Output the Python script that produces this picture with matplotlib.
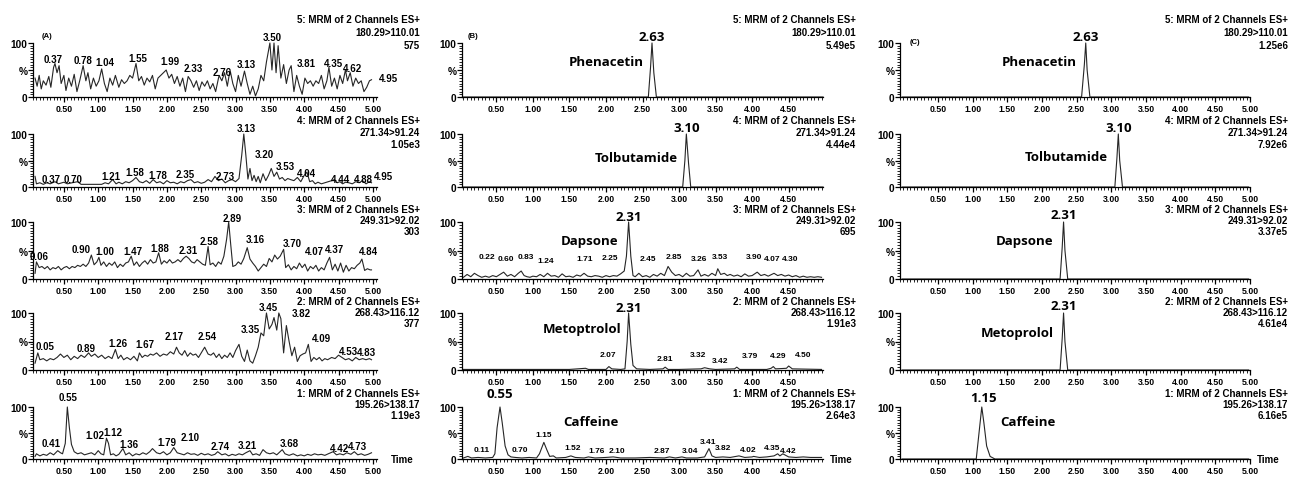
import matplotlib
matplotlib.use("Agg")
import matplotlib.pyplot as plt
from matplotlib.ticker import MultipleLocator

plt.rcParams['font.family'] = ['Liberation Sans', 'DejaVu Sans']

# ---------------- data ----------------
channels = ["5: MRM of 2 Channels ES+", "4: MRM of 2 Channels ES+", "3: MRM of 2 Channels ES+",
            "2: MRM of 2 Channels ES+", "1: MRM of 2 Channels ES+"]
transitions = ["180.29>110.01", "271.34>91.24", "249.31>92.02", "268.43>116.12", "195.26>138.17"]
counts_a = ["575", "1.05e3", "303", "377", "1.19e3"]
counts_b = ["5.49e5", "4.44e4", "695", "1.91e3", "2.64e3"]
counts_c = ["1.25e6", "7.92e6", "3.37e5", "4.61e4", "6.16e5"]

# (A) blank: (time, %) vertices
a_ch5 = [(0.08, 35), (0.11, 20), (0.14, 40), (0.17, 15), (0.20, 30), (0.24, 22), (0.28, 38), (0.31, 18),
         (0.35, 55), (0.37, 62), (0.40, 45), (0.43, 58), (0.46, 25), (0.50, 40), (0.53, 12), (0.57, 35),
         (0.61, 20), (0.65, 42), (0.69, 10), (0.73, 30), (0.78, 58), (0.82, 30), (0.85, 45), (0.89, 15),
         (0.93, 35), (0.97, 20), (1.01, 30), (1.05, 52), (1.09, 25), (1.13, 10), (1.17, 35), (1.21, 22),
         (1.25, 40), (1.30, 18), (1.34, 32), (1.38, 25), (1.42, 30), (1.46, 40), (1.50, 35), (1.55, 62),
         (1.59, 30), (1.63, 38), (1.67, 22), (1.71, 35), (1.75, 28), (1.79, 40), (1.83, 15), (1.87, 35),
         (1.91, 40), (1.95, 45), (1.99, 50), (2.03, 35), (2.07, 42), (2.11, 25), (2.15, 38), (2.19, 20),
         (2.23, 35), (2.27, 10), (2.31, 38), (2.35, 30), (2.39, 18), (2.43, 30), (2.47, 12), (2.51, 28),
         (2.55, 20), (2.59, 30), (2.63, 15), (2.67, 25), (2.71, 10), (2.76, 40), (2.80, 30), (2.84, 45),
         (2.88, 20), (2.92, 50), (2.96, 25), (3.00, 10), (3.04, 40), (3.08, 20), (3.13, 48), (3.17, 25),
         (3.21, 5), (3.25, 20), (3.29, 2), (3.33, 15), (3.37, 40), (3.41, 30), (3.45, 65), (3.50, 100),
         (3.53, 50), (3.56, 100), (3.59, 45), (3.62, 95), (3.66, 35), (3.70, 60), (3.74, 25), (3.78, 50),
         (3.81, 58), (3.85, 10), (3.89, 40), (3.93, 20), (3.97, 5), (4.01, 35), (4.05, 25), (4.09, 30),
         (4.13, 20), (4.17, 30), (4.21, 25), (4.25, 40), (4.29, 15), (4.33, 30), (4.36, 55), (4.40, 20),
         (4.44, 35), (4.48, 15), (4.52, 40), (4.56, 25), (4.60, 50), (4.63, 30), (4.67, 45), (4.71, 20),
         (4.75, 35), (4.79, 25), (4.83, 30), (4.87, 10), (4.91, 18), (4.95, 30), (4.98, 32)]
a_ch4 = [(0.08, 20), (0.10, 6), (0.15, 8), (0.20, 5), (0.25, 8), (0.30, 6), (0.37, 10), (0.42, 6),
         (0.50, 9), (0.55, 6), (0.62, 8), (0.70, 10), (0.75, 5), (0.80, 5), (0.90, 5), (1.00, 5),
         (1.05, 5), (1.10, 8), (1.15, 6), (1.21, 14), (1.26, 6), (1.30, 9), (1.35, 6), (1.40, 10),
         (1.45, 8), (1.50, 12), (1.55, 18), (1.60, 10), (1.65, 8), (1.70, 12), (1.75, 7), (1.80, 14),
         (1.85, 8), (1.90, 10), (1.95, 6), (2.00, 12), (2.05, 8), (2.10, 9), (2.15, 6), (2.20, 10),
         (2.25, 8), (2.30, 12), (2.35, 14), (2.40, 8), (2.45, 10), (2.50, 7), (2.55, 9), (2.60, 14),
         (2.65, 10), (2.70, 20), (2.75, 12), (2.80, 15), (2.85, 8), (2.90, 12), (2.95, 14), (3.00, 10),
         (3.05, 16), (3.09, 60), (3.12, 100), (3.15, 60), (3.18, 15), (3.21, 35), (3.24, 12), (3.27, 22),
         (3.30, 10), (3.33, 20), (3.36, 8), (3.40, 25), (3.44, 12), (3.48, 22), (3.52, 35), (3.56, 20),
         (3.60, 28), (3.64, 15), (3.68, 18), (3.72, 12), (3.76, 16), (3.80, 14), (3.85, 12), (3.90, 18),
         (3.95, 10), (4.00, 22), (4.04, 28), (4.08, 10), (4.12, 12), (4.16, 6), (4.20, 9), (4.25, 6),
         (4.30, 8), (4.35, 10), (4.40, 12), (4.44, 14), (4.48, 8), (4.52, 10), (4.56, 6), (4.60, 9),
         (4.65, 8), (4.70, 6), (4.75, 10), (4.80, 8), (4.85, 12), (4.90, 6), (4.95, 10), (4.98, 8)]
a_ch3 = [(0.08, 10), (0.10, 30), (0.14, 20), (0.18, 22), (0.22, 18), (0.26, 22), (0.30, 16), (0.34, 20),
         (0.38, 18), (0.42, 22), (0.46, 16), (0.50, 20), (0.54, 22), (0.58, 18), (0.62, 22), (0.66, 20),
         (0.70, 24), (0.74, 22), (0.78, 26), (0.82, 22), (0.86, 28), (0.90, 42), (0.94, 25), (0.98, 30),
         (1.01, 38), (1.04, 24), (1.08, 30), (1.12, 22), (1.16, 28), (1.20, 24), (1.24, 30), (1.28, 20),
         (1.32, 26), (1.36, 22), (1.40, 28), (1.44, 30), (1.48, 40), (1.52, 24), (1.56, 30), (1.60, 22),
         (1.64, 28), (1.68, 32), (1.72, 26), (1.76, 34), (1.80, 28), (1.84, 30), (1.88, 46), (1.92, 26),
         (1.96, 32), (2.00, 28), (2.04, 34), (2.08, 28), (2.12, 30), (2.16, 34), (2.20, 30), (2.24, 36),
         (2.28, 40), (2.32, 36), (2.36, 30), (2.40, 28), (2.44, 34), (2.48, 30), (2.52, 26), (2.56, 24),
         (2.60, 57), (2.63, 25), (2.67, 28), (2.71, 22), (2.75, 30), (2.79, 26), (2.83, 40), (2.87, 70),
         (2.90, 100), (2.93, 60), (2.96, 22), (3.00, 24), (3.04, 30), (3.08, 26), (3.12, 36), (3.17, 55),
         (3.21, 35), (3.25, 28), (3.29, 22), (3.33, 14), (3.37, 20), (3.41, 26), (3.45, 22), (3.49, 36),
         (3.53, 30), (3.57, 42), (3.61, 35), (3.65, 40), (3.70, 52), (3.73, 20), (3.77, 25), (3.81, 16),
         (3.85, 22), (3.89, 18), (3.93, 28), (3.97, 20), (4.01, 26), (4.05, 14), (4.09, 22), (4.13, 18),
         (4.17, 24), (4.21, 14), (4.25, 20), (4.29, 16), (4.33, 28), (4.37, 38), (4.41, 16), (4.45, 26),
         (4.49, 14), (4.53, 28), (4.57, 12), (4.61, 24), (4.65, 14), (4.69, 20), (4.73, 18), (4.77, 24),
         (4.81, 28), (4.84, 35), (4.88, 15), (4.92, 18), (4.96, 16), (4.98, 16)]
a_ch2 = [(0.08, 12), (0.12, 30), (0.15, 18), (0.20, 20), (0.25, 16), (0.30, 20), (0.35, 18), (0.40, 22),
         (0.45, 28), (0.50, 22), (0.55, 26), (0.60, 18), (0.65, 24), (0.70, 20), (0.75, 26), (0.80, 22),
         (0.86, 30), (0.90, 24), (0.95, 28), (1.00, 22), (1.05, 26), (1.10, 20), (1.15, 24), (1.20, 20),
         (1.25, 36), (1.29, 20), (1.33, 26), (1.37, 18), (1.42, 22), (1.47, 18), (1.52, 24), (1.57, 16),
         (1.60, 30), (1.64, 22), (1.68, 26), (1.72, 24), (1.76, 28), (1.80, 26), (1.85, 30), (1.90, 24),
         (1.95, 28), (2.00, 26), (2.05, 32), (2.10, 28), (2.14, 40), (2.18, 30), (2.22, 26), (2.26, 34),
         (2.30, 24), (2.34, 30), (2.38, 26), (2.42, 28), (2.46, 22), (2.50, 30), (2.55, 40), (2.60, 28),
         (2.64, 26), (2.68, 30), (2.72, 22), (2.76, 28), (2.80, 20), (2.84, 26), (2.88, 22), (2.92, 30),
         (2.96, 22), (3.00, 34), (3.05, 45), (3.09, 24), (3.13, 15), (3.17, 35), (3.21, 16), (3.25, 12),
         (3.29, 25), (3.33, 40), (3.37, 65), (3.41, 60), (3.45, 100), (3.49, 72), (3.53, 80), (3.56, 92),
         (3.60, 70), (3.63, 100), (3.66, 90), (3.70, 30), (3.74, 78), (3.78, 50), (3.82, 25), (3.86, 40),
         (3.90, 15), (3.94, 25), (3.98, 28), (4.02, 30), (4.06, 45), (4.10, 15), (4.14, 22), (4.18, 18),
         (4.22, 22), (4.26, 16), (4.30, 20), (4.34, 18), (4.40, 22), (4.45, 20), (4.50, 26), (4.55, 22),
         (4.60, 18), (4.65, 20), (4.70, 16), (4.75, 22), (4.80, 18), (4.85, 20), (4.90, 18), (4.95, 20),
         (4.98, 18)]
a_ch1 = [(0.08, 5), (0.10, 10), (0.15, 6), (0.20, 9), (0.25, 7), (0.30, 12), (0.35, 8), (0.41, 16),
         (0.45, 12), (0.48, 10), (0.52, 30), (0.55, 100), (0.58, 60), (0.61, 28), (0.65, 14), (0.70, 10),
         (0.75, 12), (0.80, 8), (0.85, 10), (0.90, 12), (0.95, 8), (1.00, 16), (1.04, 10), (1.08, 8),
         (1.12, 40), (1.15, 30), (1.18, 8), (1.22, 10), (1.26, 6), (1.30, 9), (1.36, 20), (1.40, 8),
         (1.45, 12), (1.50, 6), (1.55, 10), (1.60, 8), (1.65, 12), (1.70, 9), (1.75, 14), (1.79, 20),
         (1.85, 12), (1.90, 10), (1.95, 14), (2.00, 8), (2.05, 12), (2.10, 22), (2.15, 12), (2.20, 10),
         (2.25, 8), (2.30, 12), (2.35, 9), (2.40, 10), (2.45, 7), (2.50, 11), (2.55, 8), (2.60, 10),
         (2.65, 7), (2.70, 9), (2.74, 14), (2.80, 8), (2.85, 10), (2.90, 6), (2.95, 9), (3.00, 7),
         (3.05, 10), (3.10, 8), (3.15, 12), (3.21, 16), (3.25, 8), (3.30, 10), (3.35, 7), (3.40, 18),
         (3.45, 12), (3.50, 10), (3.55, 12), (3.60, 8), (3.68, 18), (3.72, 10), (3.78, 7), (3.84, 10),
         (3.90, 6), (3.95, 8), (4.00, 6), (4.05, 9), (4.10, 7), (4.15, 10), (4.20, 8), (4.25, 9),
         (4.30, 7), (4.35, 10), (4.42, 14), (4.47, 8), (4.52, 10), (4.57, 8), (4.62, 12), (4.68, 9),
         (4.73, 14), (4.78, 8), (4.83, 10), (4.88, 7), (4.93, 9), (4.98, 12)]

# peak labels (text, time, %)
a_lab5 = [("0.37", 0.35, 70), ("0.78", 0.78, 69), ("1.04", 1.09, 65), ("1.55", 1.58, 72), ("1.99", 2.05, 67),
          ("2.33", 2.39, 54), ("2.76", 2.81, 46), ("3.13", 3.15, 61), ("3.50", 3.54, 111), ("3.81", 4.03, 63),
          ("4.35", 4.42, 63), ("4.62", 4.70, 54), ("4.95", 5.22, 35)]
a_lab4 = [("0.37", 0.31, 16), ("0.70", 0.63, 16), ("1.21", 1.19, 20), ("1.58", 1.53, 29), ("1.78", 1.87, 22),
          ("2.35", 2.27, 25), ("2.73", 2.85, 20), ("3.13", 3.15, 111), ("3.20", 3.42, 63), ("3.53", 3.72, 39),
          ("4.04", 4.03, 26), ("4.44", 4.53, 16), ("4.88", 4.86, 15), ("4.95", 5.15, 20)]
a_lab3 = [("0.06", 0.14, 40), ("0.90", 0.75, 52), ("1.00", 1.09, 49), ("1.47", 1.51, 49), ("1.88", 1.90, 55),
          ("2.31", 2.31, 51), ("2.58", 2.61, 67), ("2.89", 2.95, 107), ("3.16", 3.29, 70), ("3.70", 3.83, 64),
          ("4.07", 4.15, 49), ("4.37", 4.44, 52), ("4.84", 4.93, 49)]
a_lab2 = [("0.05", 0.22, 42), ("0.89", 0.83, 39), ("1.26", 1.29, 48), ("1.67", 1.68, 45), ("2.17", 2.10, 60),
          ("2.54", 2.59, 60), ("3.35", 3.22, 72), ("3.45", 3.47, 111), ("3.82", 3.95, 100), ("4.09", 4.25, 57),
          ("4.53", 4.64, 34), ("4.83", 4.91, 31)]
a_lab1 = [("0.55", 0.56, 120), ("0.41", 0.31, 31), ("1.02", 0.95, 46), ("1.12", 1.22, 51), ("1.36", 1.44, 28),
          ("1.79", 2.00, 32), ("2.10", 2.34, 42), ("2.74", 2.78, 25), ("3.21", 3.17, 26), ("3.68", 3.78, 31),
          ("4.42", 4.52, 22), ("4.73", 4.78, 25)]

# (B) spiked sample
b_ch5 = [(0.05, 0), (2.58, 0), (2.61, 55), (2.63, 100), (2.655, 45), (2.69, 0), (4.97, 0)]
b_ch4 = [(0.05, 0), (3.05, 0), (3.08, 50), (3.10, 100), (3.13, 45), (3.16, 0), (4.97, 0)]
b_ch3 = [(0.05, 3), (0.10, 8), (0.15, 4), (0.20, 10), (0.25, 6), (0.30, 3), (0.35, 5), (0.40, 3),
         (0.45, 6), (0.50, 4), (0.55, 8), (0.60, 12), (0.65, 5), (0.70, 8), (0.75, 4), (0.80, 10),
         (0.84, 14), (0.88, 6), (0.92, 4), (0.96, 3), (1.00, 5), (1.05, 4), (1.10, 8), (1.15, 4),
         (1.20, 10), (1.25, 5), (1.30, 6), (1.35, 3), (1.40, 9), (1.45, 4), (1.50, 5), (1.55, 3),
         (1.60, 7), (1.65, 5), (1.70, 10), (1.75, 5), (1.80, 4), (1.85, 6), (1.90, 5), (1.95, 3),
         (2.00, 6), (2.05, 4), (2.10, 6), (2.15, 5), (2.20, 9), (2.25, 14), (2.28, 40), (2.31, 100),
         (2.34, 40), (2.37, 6), (2.40, 4), (2.45, 10), (2.50, 4), (2.55, 6), (2.60, 3), (2.65, 8),
         (2.70, 5), (2.75, 10), (2.80, 6), (2.85, 22), (2.90, 12), (2.95, 6), (3.00, 8), (3.05, 4),
         (3.10, 10), (3.15, 5), (3.20, 6), (3.26, 16), (3.30, 5), (3.35, 8), (3.40, 5), (3.45, 10),
         (3.50, 6), (3.53, 18), (3.57, 8), (3.62, 10), (3.66, 6), (3.70, 8), (3.75, 5), (3.80, 7),
         (3.85, 4), (3.90, 9), (3.95, 5), (4.00, 6), (4.07, 12), (4.12, 6), (4.17, 8), (4.22, 5),
         (4.30, 10), (4.35, 6), (4.40, 8), (4.45, 5), (4.50, 7), (4.55, 4), (4.60, 6), (4.65, 3),
         (4.70, 5), (4.75, 3), (4.80, 4), (4.85, 3), (4.90, 4), (4.95, 3)]
b_ch2 = [(0.05, 1), (0.50, 1), (1.00, 1), (1.50, 1), (1.72, 3), (1.76, 1), (2.00, 1), (2.04, 6),
         (2.08, 2), (2.20, 1), (2.26, 2), (2.29, 50), (2.31, 100), (2.34, 45), (2.37, 8), (2.42, 2),
         (2.60, 1), (2.78, 2), (2.81, 5), (2.85, 1), (3.00, 1), (3.30, 2), (3.35, 4), (3.42, 2),
         (3.50, 1), (3.76, 2), (3.79, 5), (3.83, 1), (4.20, 1), (4.26, 3), (4.29, 6), (4.32, 2),
         (4.47, 3), (4.50, 7), (4.55, 2), (4.95, 1)]
b_ch1 = [(0.05, 2), (0.11, 5), (0.16, 2), (0.25, 3), (0.35, 2), (0.45, 3), (0.48, 10), (0.51, 60),
         (0.55, 100), (0.58, 70), (0.62, 25), (0.66, 8), (0.70, 4), (0.76, 3), (0.85, 2), (0.95, 3),
         (1.05, 2), (1.09, 10), (1.15, 32), (1.19, 18), (1.23, 5), (1.28, 6), (1.32, 2), (1.45, 3),
         (1.52, 6), (1.58, 3), (1.70, 2), (1.76, 4), (1.85, 2), (2.00, 3), (2.10, 4), (2.20, 2),
         (2.40, 2), (2.60, 3), (2.80, 2), (2.87, 4), (2.95, 2), (3.04, 4), (3.10, 2), (3.25, 2),
         (3.35, 4), (3.41, 20), (3.45, 6), (3.50, 3), (3.60, 4), (3.70, 3), (3.82, 6), (3.90, 3),
         (4.00, 4), (4.02, 5), (4.10, 3), (4.20, 4), (4.30, 6), (4.35, 10), (4.38, 6), (4.42, 10),
         (4.50, 4), (4.60, 3), (4.70, 4), (4.80, 3), (4.95, 3)]

b_big = [("2.63", 2.63, 112), ("3.10", 3.10, 112), ("2.31", 2.31, 110), ("2.31", 2.31, 110), ("0.55", 0.55, 125)]
b_lab3 = [("0.22", 0.37, 39), ("0.60", 0.63, 36), ("0.83", 0.90, 39), ("1.24", 1.17, 33), ("1.71", 1.71, 36),
          ("2.25", 2.06, 37), ("2.45", 2.58, 36), ("2.85", 2.93, 39), ("3.26", 3.27, 36), ("3.53", 3.56, 39),
          ("3.90", 4.02, 39), ("4.07", 4.27, 36), ("4.30", 4.52, 36)]
b_lab2 = [("2.07", 2.03, 28), ("2.81", 2.80, 20), ("3.32", 3.26, 28), ("3.42", 3.56, 17), ("3.79", 3.97, 25),
          ("4.29", 4.36, 25), ("4.50", 4.70, 28)]
b_lab1 = [("1.15", 1.15, 47), ("0.11", 0.30, 19), ("0.70", 0.82, 19), ("1.52", 1.55, 22), ("1.76", 1.87, 17),
          ("2.10", 2.15, 17), ("2.87", 2.77, 17), ("3.04", 3.15, 17), ("3.41", 3.40, 33), ("3.82", 3.60, 22),
          ("4.02", 3.95, 19), ("4.35", 4.27, 22), ("4.42", 4.50, 17)]
b_names = [("Phenacetin", 2.52, 65, 'right'), ("Tolbutamide", 2.99, 55, 'right'), ("Dapsone", 2.17, 67, 'right'),
           ("Metoptrolol", 2.21, 72, 'right'), ("Caffeine", 1.41, 72, 'left')]

# (C) QC sample
c_ch5 = [(-0.02, 0), (2.57, 0), (2.61, 60), (2.63, 100), (2.65, 50), (2.69, 0), (4.98, 0)]
c_ch4 = [(-0.02, 0), (3.05, 0), (3.08, 55), (3.10, 100), (3.12, 50), (3.16, 0), (4.98, 0)]
c_ch3 = [(-0.02, 0), (2.26, 0), (2.29, 55), (2.31, 100), (2.33, 50), (2.37, 0), (4.98, 0)]
c_ch2 = [(-0.02, 0), (2.26, 0), (2.29, 55), (2.31, 100), (2.33, 50), (2.37, 0), (4.98, 0)]
c_ch1 = [(-0.02, 0), (1.05, 0), (1.09, 50), (1.13, 100), (1.16, 70), (1.20, 25), (1.25, 5), (1.32, 0), (4.98, 0)]
c_big = [("2.63", 2.63, 112), ("3.10", 3.10, 112), ("2.31", 2.31, 114), ("2.31", 2.31, 114), ("1.15", 1.15, 118)]
c_names = [("Phenacetin", 2.50, 65, 'right'), ("Tolbutamide", 2.95, 57, 'right'), ("Dapsone", 2.17, 68, 'right'),
           ("Metoprolol", 2.17, 66, 'right'), ("Caffeine", 1.39, 72, 'left')]

# ---------------- layout ----------------
W, H = 1291, 481
fig = plt.figure(figsize=(W / 100, H / 100), dpi=100)

row_top = [44, 135, 223, 314, 408]
row_bot = [98, 188, 280, 371, 460]
head_dy = [(24, 11, -2), (14, 2, -10), (13, 2, -9), (12, 1, -10), (14, 3, -8)]
line_col = '#262626'


def make_axes(left, right, r, xlim, last_tick):
    ax = fig.add_axes([left / W, 1 - row_bot[r] / H, (right - left) / W, (row_bot[r] - row_top[r]) / H])
    ax.set_xlim(*xlim)
    ax.set_ylim(0, 100)
    for s in ('top', 'right'):
        ax.spines[s].set_visible(False)
    for s in ('left', 'bottom'):
        ax.spines[s].set_linewidth(0.9)
    ticks = [0.5 * k for k in range(1, int(last_tick / 0.5) + 1)]
    ax.set_xticks(ticks)
    ax.set_xticklabels(['%.2f' % t for t in ticks], fontsize=6.3, fontweight='bold')
    ax.xaxis.set_minor_locator(MultipleLocator(0.05))
    ax.set_yticks([0, 50, 100])
    ax.set_yticklabels(['0', '%', '100'], fontsize=7.3, fontweight='bold')
    ax.yaxis.set_minor_locator(MultipleLocator(5))
    ax.tick_params(which='major', direction='out', length=3.5, width=0.9, pad=1.5)
    ax.tick_params(which='minor', direction='out', length=2, width=0.6)
    ax.tick_params(axis='y', pad=0.5)
    return ax


def header(ax, r, dx, lines, fs):
    for line, dy in zip(lines, head_dy[r]):
        ax.annotate(line, xy=(1, 1), xycoords='axes fraction', xytext=(dx, dy),
                    textcoords='offset pixels', ha='right', va='center', fontsize=fs, fontweight='bold')


def trace(ax, pts):
    ax.plot([p[0] for p in pts], [p[1] for p in pts], color=line_col, lw=0.8, clip_on=False)


def labels(ax, labs, fs, family=None):
    for s, x, y in labs:
        ax.text(x, y, s, ha='center', va='center', fontsize=fs, fontweight='bold',
                clip_on=False, family=family)


cols = [
    dict(l=33, r=377, xlim=(0.05, 5.06), last=5.0, dx=43, counts=counts_a, tag="(A)", tagoff=(9, 8), timex=14),
    dict(l=462, r=823, xlim=(0.03, 4.97), last=4.5, dx=33, counts=counts_b, tag="(B)", tagoff=(6, 7), timex=7),
    dict(l=900, r=1250, xlim=(-0.05, 5.0), last=5.0, dx=38, counts=counts_c, tag="(C)", tagoff=(10, 2), timex=7),
]
traces = [[a_ch5, a_ch4, a_ch3, a_ch2, a_ch1],
          [b_ch5, b_ch4, b_ch3, b_ch2, b_ch1],
          [c_ch5, c_ch4, c_ch3, c_ch2, c_ch1]]
small_labels = [[a_lab5, a_lab4, a_lab3, a_lab2, a_lab1],
                [[], [], b_lab3, b_lab2, b_lab1],
                [[], [], [], [], []]]
big_labels = [None, b_big, c_big]
names = [None, b_names, c_names]
humanist = ['Open Sans', 'DejaVu Sans']

for c, col in enumerate(cols):
    for r in range(5):
        ax = make_axes(col['l'], col['r'], r, col['xlim'], col['last'])
        trace(ax, traces[c][r])
        labels(ax, small_labels[c][r], 7 if c == 0 else 6.0)
        header(ax, r, col['dx'], [channels[r], transitions[r], col['counts'][r]], 7)
        if big_labels[c] is not None:
            s, x, y = big_labels[c][r]
            ax.text(x, y, s, ha='center', va='center', fontsize=9.5, fontweight='bold',
                    family=humanist, clip_on=False)
            n, x, y, ha = names[c][r]
            ax.text(x, y, n, ha=ha, va='center', fontsize=9.5, fontweight='bold',
                    family=humanist, clip_on=False)
        if r == 0:
            ax.annotate(col['tag'], xy=(0, 1), xycoords='axes fraction', xytext=col['tagoff'],
                        textcoords='offset pixels', ha='left', va='center', fontsize=5.5, fontweight='bold')
        if r == 4:
            ax.annotate("Time", xy=(1, 0), xycoords='axes fraction', xytext=(col['timex'], 0),
                        textcoords='offset pixels', ha='left', va='center', fontsize=7, fontweight='bold')

fig.savefig("out.png", dpi=100)
